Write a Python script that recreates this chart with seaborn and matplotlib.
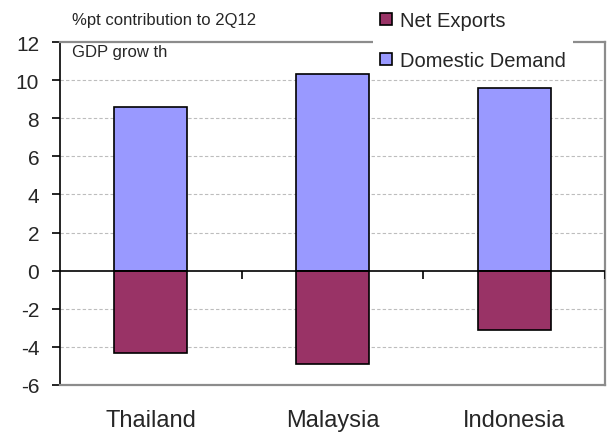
import matplotlib
matplotlib.use("Agg")
import matplotlib.pyplot as plt
from matplotlib.patches import Patch
import seaborn as sns
import pandas as pd

countries = ["Thailand", "Malaysia", "Indonesia"]
domestic_demand = [8.6, 10.3, 9.6]
net_exports = [-4.3, -4.9, -3.1]
y_ticks = [-6, -4, -2, 0, 2, 4, 6, 8, 10, 12]

dd_color = "#9999FF"
ne_color = "#993366"
frame_gray = "#8C8C8C"

sns.set_theme(style="white")
plt.rcParams["font.family"] = ["Liberation Sans", "DejaVu Sans"]

df = pd.DataFrame({"country": countries,
                   "Domestic Demand": domestic_demand,
                   "Net Exports": net_exports})

fig = plt.figure(figsize=(6.12, 4.35), dpi=100)
ax = fig.add_axes([60 / 612, 1 - 386 / 435, 545 / 612, 343 / 435])

sns.barplot(data=df, x="country", y="Domestic Demand", color=dd_color,
            width=0.4, edgecolor="black", linewidth=1.2, saturation=1,
            ax=ax, zorder=3)
sns.barplot(data=df, x="country", y="Net Exports", color=ne_color,
            width=0.4, edgecolor="black", linewidth=1.2, saturation=1,
            ax=ax, zorder=3)

ax.set_xlim(-0.5, len(countries) - 0.5)
ax.set_ylim(y_ticks[0], y_ticks[-1])
ax.set_yticks(y_ticks)
ax.set_yticklabels([str(t) for t in y_ticks])
ax.set_xlabel("")
ax.set_ylabel("")

# dashed gridlines between the frame and the zero line
for t in y_ticks:
    if t not in (0, y_ticks[0], y_ticks[-1]):
        ax.axhline(t, color="#BDBDBD", linestyle=(0, (3, 2)), linewidth=0.8, zorder=1)

# zero line with category separator ticks
ax.axhline(0, color="black", linewidth=1.2, zorder=4)
ax.vlines([0.5, 1.5, 2.5], -0.45, 0, color="black", linewidth=1.2, zorder=4)

ax.tick_params(axis="y", direction="out", length=6, width=1.2, color="black",
               pad=9, left=True, labelsize=15)
ax.tick_params(axis="x", length=0, pad=17, labelsize=17)

for side in ["top", "right", "bottom"]:
    ax.spines[side].set_color(frame_gray)
    ax.spines[side].set_linewidth(1.6)
ax.spines["left"].set_color("black")
ax.spines["left"].set_linewidth(1.2)

fig.text(72 / 612, 1 - 20 / 435, "%pt contribution to 2Q12", fontsize=12,
         va="center", ha="left")
fig.text(72 / 612, 1 - 53 / 435, "GDP grow th", fontsize=12,
         va="center", ha="left")

handles = [Patch(facecolor=ne_color, edgecolor="black", linewidth=1.2),
           Patch(facecolor=dd_color, edgecolor="black", linewidth=1.2)]
fig.legend(handles, ["Net Exports", "Domestic Demand"],
           loc="upper left", bbox_to_anchor=(373 / 612, 1 - 5 / 435),
           fontsize=14.5, frameon=True, facecolor="white", edgecolor="none",
           framealpha=1, fancybox=False, handlelength=0.6, handleheight=0.6,
           handletextpad=0.4, labelspacing=1.05, borderpad=0.35, borderaxespad=0)

fig.savefig("out.png", dpi=100)
